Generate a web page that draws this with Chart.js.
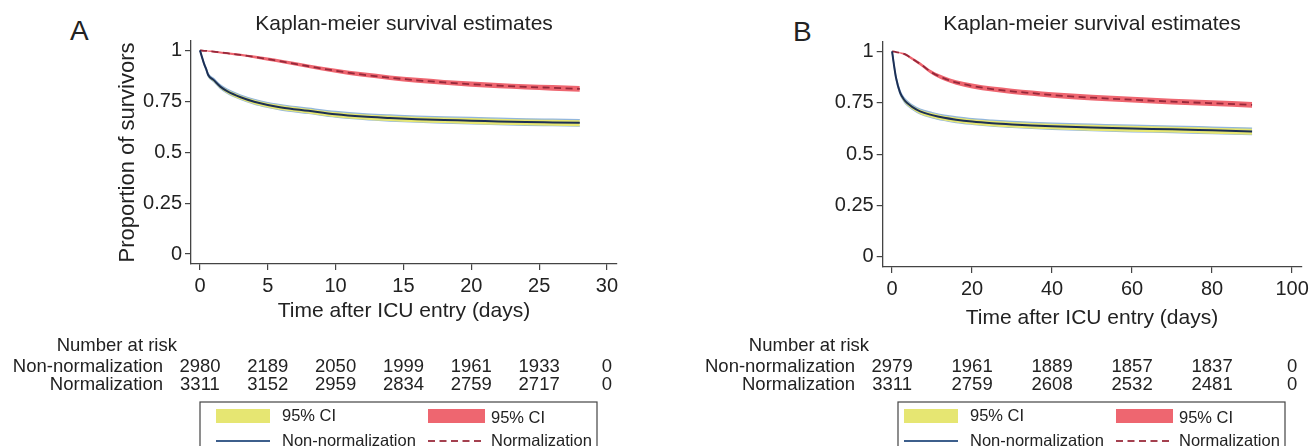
<!DOCTYPE html>
<html><head><meta charset="utf-8">
<script src="https://cdn.jsdelivr.net/npm/chart.js@4.4.0/dist/chart.umd.min.js"></script>
<style>
html,body{margin:0;padding:0;background:#fff;width:1313px;height:446px;overflow:hidden;font-family:"Liberation Sans",Arial,sans-serif}
.wrap{position:absolute;top:0;height:446px}
#wa{left:0;width:650px}
#wb{left:660px;width:653px}
.letter{position:absolute;font-size:28px;color:#222;line-height:1;font-family:"Liberation Sans",Arial,sans-serif}
</style></head><body>
<div class="letter" style="left:70px;top:17px">A</div>
<div class="letter" style="left:793px;top:18px">B</div>
<div class="wrap" id="wa"><canvas id="ca" width="650" height="446"></canvas></div>
<div class="wrap" id="wb"><canvas id="cb" width="653" height="446"></canvas></div>
<script>
// ---------- DATA ----------
const chartTitle = 'Kaplan-meier survival estimates';
const groupLabels = ['Non-normalization', 'Normalization'];
const ciLabel = '95% CI';
const riskHeader = 'Number at risk';
const yTitle = 'Proportion of survivors';
const xTitle = 'Time after ICU entry (days)';
const yTicks = [0, 0.25, 0.5, 0.75, 1];

// Panel A (28 days)
const xTicksA = [0, 5, 10, 15, 20, 25, 30];
const timeA = [0, 0.3, 0.5, 0.6, 1, 1.5, 2, 3, 4, 5, 6, 8, 10, 12, 14, 16, 18, 20, 22, 24, 26, 28];
const nonNormA   = [1.000,0.935,0.900,0.880,0.855,0.822,0.800,0.770,0.748,0.732,0.720,0.703,0.686,0.675,0.668,0.662,0.658,0.655,0.651,0.648,0.646,0.644];
const nonNormLoA = [1.000,0.931,0.894,0.873,0.847,0.813,0.790,0.759,0.736,0.720,0.707,0.690,0.672,0.661,0.653,0.647,0.643,0.639,0.635,0.632,0.630,0.628];
const nonNormHiA = [1.000,0.939,0.906,0.887,0.863,0.831,0.810,0.781,0.760,0.744,0.733,0.716,0.700,0.689,0.683,0.677,0.673,0.671,0.667,0.664,0.662,0.660];
const normA   = [1.000,0.998,0.997,0.996,0.994,0.990,0.986,0.978,0.968,0.957,0.946,0.922,0.900,0.881,0.866,0.853,0.843,0.834,0.827,0.821,0.816,0.811];
const normLoA = [1.000,0.996,0.994,0.993,0.990,0.985,0.981,0.972,0.961,0.949,0.938,0.913,0.890,0.870,0.855,0.841,0.831,0.821,0.814,0.808,0.802,0.797];
const normHiA = [1.000,1.000,1.000,0.999,0.998,0.995,0.991,0.984,0.975,0.965,0.954,0.931,0.910,0.892,0.877,0.865,0.855,0.847,0.840,0.834,0.830,0.825];
const riskTimesA = [0, 5, 10, 15, 20, 25, 30];
const riskNonNormA = [2980, 2189, 2050, 1999, 1961, 1933, 0];
const riskNormA = [3311, 3152, 2959, 2834, 2759, 2717, 0];

// Panel B (90 days)
const xTicksB = [0, 20, 40, 60, 80, 100];
const timeB = [0, 0.5, 1, 2, 3, 4, 5, 7, 10, 13, 16, 20, 25, 30, 35, 40, 50, 60, 70, 80, 90];
const nonNormB   = [1.000,0.930,0.870,0.800,0.765,0.745,0.730,0.708,0.690,0.677,0.668,0.659,0.651,0.645,0.640,0.636,0.630,0.625,0.621,0.616,0.611];
const nonNormLoB = [1.000,0.925,0.863,0.791,0.755,0.734,0.719,0.696,0.677,0.664,0.654,0.645,0.636,0.630,0.625,0.621,0.614,0.609,0.605,0.600,0.595];
const nonNormHiB = [1.000,0.935,0.877,0.809,0.775,0.756,0.741,0.720,0.703,0.690,0.682,0.673,0.666,0.660,0.655,0.651,0.646,0.641,0.637,0.632,0.627];
const normB   = [1.000,0.999,0.997,0.993,0.988,0.978,0.965,0.940,0.897,0.869,0.849,0.832,0.817,0.806,0.797,0.788,0.775,0.765,0.756,0.748,0.740];
const normLoB = [1.000,0.998,0.995,0.990,0.983,0.972,0.958,0.932,0.888,0.859,0.838,0.820,0.805,0.793,0.784,0.775,0.761,0.751,0.742,0.734,0.726];
const normHiB = [1.000,1.000,0.999,0.996,0.993,0.984,0.972,0.948,0.906,0.879,0.860,0.844,0.829,0.819,0.810,0.801,0.789,0.779,0.770,0.762,0.754];
const riskTimesB = [0, 20, 40, 60, 80, 100];
const riskNonNormB = [2979, 1961, 1889, 1857, 1837, 0];
const riskNormB = [3311, 2759, 2608, 2532, 2481, 0];

// ---------- STYLE ----------
const FONT = '"Liberation Sans", Arial, sans-serif';
const TXT = '#222';
const AXIS = '#444';
const YELLOW = '#e6e672';
const BAND_EDGE = '#92b6dd';
const RED_BAND = '#ee6670';
const BLUE_LINE = '#1c2f55';
const RED_LINE = '#96283a';
const LEG_BLUE = '#3d5f8c';
const LEG_RED = '#a4404f';

function pts(t, v) { return t.map((x, i) => ({x: x, y: v[i]})); }

function makePanel(cfg) {
  const plugin = {
    id: 'riskLegend' + cfg.id,
    afterDraw(chart) {
      const ctx = chart.ctx, xs = chart.scales.x, ca = chart.chartArea;
      const cx = (ca.left + ca.right) / 2;
      ctx.save();
      ctx.fillStyle = TXT;
      ctx.textBaseline = 'middle';
      // title
      ctx.font = '21px ' + FONT;
      ctx.textAlign = 'center';
      ctx.fillText(chartTitle, cx, 24);
      // risk table
      ctx.font = '18.5px ' + FONT;
      const x0 = xs.getPixelForValue(cfg.riskTimes[0]);
      ctx.textAlign = 'right';
      ctx.fillText(riskHeader, x0 - 23, 346);
      ctx.fillText(groupLabels[0], x0 - 37, 367);
      ctx.fillText(groupLabels[1], x0 - 37, 385);
      ctx.textAlign = 'center';
      cfg.riskTimes.forEach((t, i) => {
        const px = xs.getPixelForValue(t);
        ctx.fillText(String(cfg.riskNon[i]), px, 367);
        ctx.fillText(String(cfg.riskNorm[i]), px, 385);
      });
      // legend box
      const bl = cx - cfg.legLeft, br = cx + 193;
      ctx.strokeStyle = AXIS; ctx.lineWidth = 1.2;
      ctx.strokeRect(bl, 402, br - bl, 60);
      const s1 = cx - 188, s2 = cx + 24, sw = 54;
      ctx.fillStyle = YELLOW; ctx.fillRect(s1, 409, sw, 14);
      ctx.fillStyle = RED_BAND; ctx.fillRect(s2, 409, sw + 3, 14);
      ctx.lineWidth = 2;
      ctx.strokeStyle = LEG_BLUE;
      ctx.beginPath(); ctx.moveTo(s1, 441); ctx.lineTo(s1 + sw, 441); ctx.stroke();
      ctx.strokeStyle = LEG_RED; ctx.setLineDash([7, 4.5]);
      ctx.beginPath(); ctx.moveTo(s2, 441); ctx.lineTo(s2 + sw + 3, 441); ctx.stroke();
      ctx.setLineDash([]);
      ctx.fillStyle = TXT; ctx.font = '16.5px ' + FONT; ctx.textAlign = 'left';
      ctx.fillText(ciLabel, s1 + sw + 12, 416);
      ctx.fillText(groupLabels[0], s1 + sw + 12, 441);
      ctx.fillText(ciLabel, s2 + sw + 9, 418);
      ctx.fillText(groupLabels[1], s2 + sw + 9, 441);
      ctx.restore();
    }
  };
  const band = (data, color, edge, fill) => ({
    data: data, borderColor: edge, borderWidth: edge ? 1.2 : 0, backgroundColor: color,
    fill: fill, pointRadius: 0, cubicInterpolationMode: 'monotone', order: 2
  });
  return new Chart(document.getElementById(cfg.canvas), {
    type: 'line',
    data: {
      datasets: [
        {label: groupLabels[0], data: pts(cfg.time, cfg.non), borderColor: BLUE_LINE, borderWidth: 2,
         pointRadius: 0, fill: false, cubicInterpolationMode: 'monotone', order: 0},
        {label: groupLabels[1], data: pts(cfg.time, cfg.norm), borderColor: RED_LINE, borderWidth: 1.8,
         borderDash: [7, 4.5], pointRadius: 0, fill: false, cubicInterpolationMode: 'monotone', order: 0},
        band(pts(cfg.time, cfg.nonHi), YELLOW, BAND_EDGE, '+1'),
        band(pts(cfg.time, cfg.nonLo), YELLOW, BAND_EDGE, false),
        band(pts(cfg.time, cfg.normHi), RED_BAND, null, '+1'),
        band(pts(cfg.time, cfg.normLo), RED_BAND, null, false)
      ]
    },
    options: {
      responsive: false, animation: false,
      layout: {padding: cfg.padding},
      plugins: {legend: {display: false}, title: {display: false}, tooltip: {enabled: false}},
      scales: {
        x: {
          type: 'linear', min: cfg.xMin, max: cfg.xMax,
          afterBuildTicks: s => { s.ticks = cfg.xTicks.map(v => ({value: v})); },
          afterFit: s => { s.height = cfg.xH; },
          grid: {drawOnChartArea: false, drawTicks: true, tickLength: 6, color: AXIS, lineWidth: 1.2},
          border: {display: true, color: AXIS, width: 1.3},
          ticks: {color: TXT, font: {family: FONT, size: 20}, padding: 4, maxRotation: 0, autoSkip: false,
                  callback: v => String(v)},
          title: {display: true, text: xTitle, color: TXT, font: {family: FONT, size: 21}, padding: {top: 0, bottom: 0.4}}
        },
        y: {
          type: 'linear', min: -0.049, max: 1.046,
          afterBuildTicks: s => { s.ticks = yTicks.map(v => ({value: v})); },
          afterFit: s => { s.width = cfg.yW; },
          grid: {drawOnChartArea: false, drawTicks: true, tickLength: 6, color: AXIS, lineWidth: 1.2},
          border: {display: true, color: AXIS, width: 1.3},
          ticks: {color: TXT, font: {family: FONT, size: 20}, padding: 3, callback: v => String(v)},
          title: {display: cfg.showYTitle, text: yTitle, color: TXT, font: {family: FONT, size: 22}, padding: {top: 114.8, bottom: 0}}
        }
      }
    },
    plugins: [plugin]
  });
}

makePanel({id: 'A', canvas: 'ca', time: timeA, non: nonNormA, nonLo: nonNormLoA, nonHi: nonNormHiA,
  norm: normA, normLo: normLoA, normHi: normHiA, xTicks: xTicksA, xMin: -0.66, xMax: 30.74,
  riskTimes: riskTimesA, riskNon: riskNonNormA, riskNorm: riskNormA,
  padding: {top: 41, left: 0, right: 33, bottom: 122}, yW: 191, xH: 60, showYTitle: true, legLeft: 204});

makePanel({id: 'B', canvas: 'cb', time: timeB, non: nonNormB, nonLo: nonNormLoB, nonHi: nonNormHiB,
  norm: normB, normLo: normLoB, normHi: normHiB, xTicks: xTicksB, xMin: -2.35, xMax: 102.3,
  riskTimes: riskTimesB, riskNon: riskNonNormB, riskNorm: riskNormB,
  padding: {top: 42, left: 0, right: 10, bottom: 115}, yW: 222.7, xH: 64, showYTitle: false, legLeft: 194});
</script>
</body></html>
